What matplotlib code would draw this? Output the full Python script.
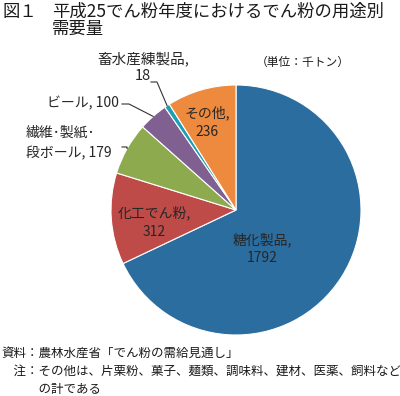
import matplotlib
matplotlib.use("Agg")
import matplotlib.pyplot as plt
import numpy as np

plt.rcParams["font.family"] = ["Noto Sans CJK JP", "DejaVu Sans"]

categories = ["糖化製品", "化工でん粉", "繊維・製紙・段ボール", "ビール", "畜水産練製品", "その他"]
values = [1792, 312, 179, 100, 18, 236]
colors = ["#2C6DA0", "#BE4B48", "#8DAA4F", "#7F6090", "#1E9EB4", "#EE8A3E"]
label_texts = ["糖化製品,\n1792", "化工でん粉,\n312", "繊維･製紙･\n段ボール, 179",
               "ビール, 100", "畜水産練製品,\n18", "その他,\n236"]

W, H = 400, 396
fig = plt.figure(figsize=(W / 100, H / 100), dpi=100)

# pie centre (236, 210) px, radius 125 px
cx, cy, r = 236, 210, 125
ax = fig.add_axes([(cx - r) / W, 1 - (cy + r) / H, 2 * r / W, 2 * r / H])
wedges, _ = ax.pie(values, colors=colors, startangle=90, counterclock=False, radius=1,
                   wedgeprops=dict(edgecolor="white", linewidth=0.8))
ax.set_xlim(-1, 1)
ax.set_ylim(-1, 1)
ax.set_aspect("equal")
ax.axis("off")


def px(x, y):
    # pixel position -> data coords of the pie axes
    return (x - cx) / r, (cy - y) / r


def mid_point(w, rad=1.0):
    ang = np.deg2rad((w.theta1 + w.theta2) / 2)
    return rad * np.cos(ang), rad * np.sin(ang)


txt_color = "#262626"
line_color = "#333333"

# inside labels: (x, y, linespacing)
inside = {0: (262, 249, 1.3), 1: (154, 222, 1.4), 5: (207, 122, 1.45)}
for i, (x, y, ls) in inside.items():
    tx, ty = px(x, y)
    ax.text(tx, ty, label_texts[i], ha="center", va="center", fontsize=10,
            color=txt_color, linespacing=ls)

# outside labels with leader lines
tx, ty = px(26, 143)
ax.text(tx, ty, label_texts[2], ha="left", va="center", fontsize=10,
        color=txt_color, linespacing=1.6, clip_on=False)
ex, ey = mid_point(wedges[2])
x0, y0 = px(122, 147)
x1, _ = px(127, 147)
ax.plot([x0, x1, x1, ex], [y0, y0, ey + 0.01, ey], color=line_color, lw=0.8, clip_on=False)

tx, ty = px(47, 103)
ax.text(tx, ty, label_texts[3], ha="left", va="center", fontsize=10,
        color=txt_color, clip_on=False)
ex, ey = mid_point(wedges[3])
x0, y0 = px(122, 104)
x1, _ = px(129, 104)
ax.plot([x0, x1, ex], [y0, y0, ey], color=line_color, lw=0.8, clip_on=False)

tx, ty = px(143, 67)
ax.text(tx, ty, label_texts[4], ha="center", va="center", fontsize=10.5,
        color=txt_color, linespacing=1.2, clip_on=False)
ex, ey = mid_point(wedges[4])
x0, y0 = px(151, 82)
x1, _ = px(157, 82)
ax.plot([x0, x1, ex], [y0, y0, ey], color=line_color, lw=0.8, clip_on=False)

# title, unit, notes
def ftext(x, y, s, **kw):
    fig.text(x / W, 1 - y / H, s, va="center", color="#1a1a1a", **kw)

ftext(3, 12, "図１", fontsize=12.5, ha="left")
ftext(52, 12, "平成25でん粉年度におけるでん粉の用途別", fontsize=12.5, ha="left")
ftext(52, 29, "需要量", fontsize=12.5, ha="left")
ftext(303, 62, "（単位：千トン）", fontsize=8.5, ha="center")

ftext(1, 353, "資料：農林水産省「でん粉の需給見通し」", fontsize=9, ha="left")
ftext(1, 372, "　注：その他は、片栗粉、菓子、麺類、調味料、建材、医薬、飼料など", fontsize=9, ha="left")
ftext(1, 390, "　　　の計である", fontsize=9, ha="left")

fig.savefig("out.png", dpi=100)
